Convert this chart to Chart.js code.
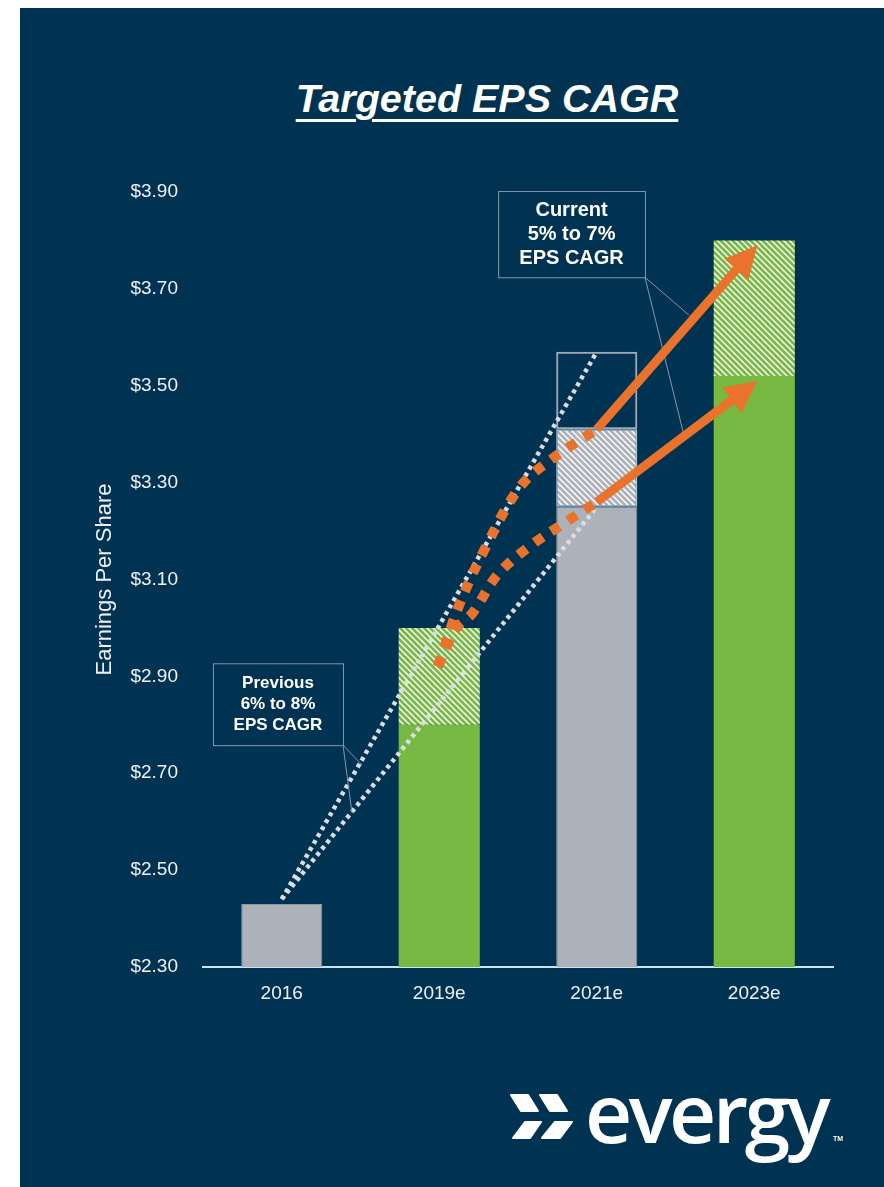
<!DOCTYPE html>
<html>
<head>
<meta charset="utf-8">
<title>Targeted EPS CAGR</title>
<script src="https://cdn.jsdelivr.net/npm/chart.js@4.4.1/dist/chart.umd.min.js"></script>
<style>
  html, body { margin: 0; padding: 0; background: #fff; }
  body { width: 884px; height: 1187px; position: relative; overflow: hidden;
         font-family: "Liberation Sans", Arial, sans-serif; }
  #panel { position: absolute; left: 20px; top: 8px; right: 0; bottom: 0; background: #003252; }
  #chart { position: absolute; left: 0; top: 0; }
  #title { position: absolute; left: 187px; top: 78px; width: 600px; text-align: center;
           color: #fff; font-size: 39.5px; line-height: 40px; font-weight: bold; font-style: italic;
           text-decoration: underline; text-decoration-thickness: 3px; text-underline-offset: 7px; }
  #logo-mark { position: absolute; left: 0; top: 0; }
  #logo-word { position: absolute; left: 585px; top: 1070px; color: #fff;
               font-family: "Open Sans", sans-serif; font-weight: 600; font-size: 82px;
               line-height: 82px; letter-spacing: -3.5px; }
  #logo-tm { position: absolute; left: 833px; top: 1135px; color: #fff; font-size: 7px; font-weight: bold; }
</style>
</head>
<body>
<div id="panel"></div>
<div id="title">Targeted EPS CAGR</div>
<canvas id="chart" width="884" height="1187"></canvas>
<svg id="logo-mark" width="884" height="1187">
  <g fill="#fff" stroke="#fff" stroke-width="2" stroke-linejoin="round">
    <polygon points="511,1095 528,1095 538,1111 521,1111"/>
    <polygon points="540,1095 557,1095 567,1111 550,1111"/>
    <polygon points="525,1122 541,1122 530,1138 513,1138"/>
    <polygon points="555,1122 572,1122 560,1138 542,1138"/>
  </g>
</svg>
<div id="logo-word">evergy</div>
<div id="logo-tm">TM</div>

<script>
/* EPS CAGR chart — bars, guide lines and arrows */

// ── DATA ──────────────────────────────────────────────────────────────────────
const CATEGORIES = ['2016', '2019e', '2021e', '2023e'];
const EPS_BASE   = [2.43, 2.80, 3.25, 3.52];   // solid bar top
const EPS_HIGH   = [null, 3.00, 3.41, 3.80];   // top of hatched range
const PREV_HIGH  = [null, null, 3.57, null];   // previous 2021 target (outline box)
const Y_TICKS    = [2.30, 2.50, 2.70, 2.90, 3.10, 3.30, 3.50, 3.70, 3.90];
const Y_MIN = 2.30;
const Y_MAX = 3.90;

// previous 6%-8% guide lines (x = category index)
const PREV_LOW_LINE  = [{ x: 0, y: 2.44 }, { x: 2, y: 3.25 }];
const PREV_HIGH_LINE = [{ x: 0, y: 2.44 }, { x: 2, y: 3.57 }];

// current 5%-7% dotted paths, 2019e -> 2021e
const CUR_HIGH_PATH = [
  { x: 0.99, y: 2.92 }, { x: 1.13, y: 3.05 }, { x: 1.30, y: 3.17 },
  { x: 1.51, y: 3.29 }, { x: 1.72, y: 3.35 }, { x: 2.00, y: 3.41 }
];
const CUR_LOW_PATH = [
  { x: 0.99, y: 2.92 }, { x: 1.11, y: 3.00 }, { x: 1.21, y: 3.03 },
  { x: 1.37, y: 3.11 }, { x: 1.58, y: 3.17 }, { x: 1.81, y: 3.22 }, { x: 2.00, y: 3.26 }
];

// solid arrows 2021e -> 2023e
const CUR_HIGH_ARROW = [{ x: 2.00, y: 3.41 }, { x: 3.02, y: 3.79 }];
const CUR_LOW_ARROW  = [{ x: 2.00, y: 3.26 }, { x: 3.02, y: 3.51 }];

// callouts: box corners in data coords, leader end points, text lines
const PREV_LINES = ['Previous', '6% to 8%', 'EPS CAGR'];
const PREV_BOX   = { x0: -0.437, x1: 0.389, y0: 2.927, y1: 2.758 };
const PREV_LEADS = [{ x: 0.51, y: 2.717 }, { x: 0.446, y: 2.618 }];
const CUR_LINES  = ['Current', '5% to 7%', 'EPS CAGR'];
const CUR_BOX    = { x0: 1.374, x1: 2.306, y0: 3.902, y1: 3.724 };
const CUR_LEADS  = [{ x: 2.585, y: 3.646 }, { x: 2.555, y: 3.396 }];

// ── STYLE ─────────────────────────────────────────────────────────────────────
const GRAY   = '#adb1b9';
const GREEN  = '#78b943';
const ORANGE = '#e9732c';
const DOTS   = '#dadde1';
const FONT   = "'Liberation Sans', Arial, sans-serif";

function hatch(color) {
  const s = 6;
  const c = document.createElement('canvas');
  c.width = s; c.height = s;
  const g = c.getContext('2d');
  g.fillStyle = '#ffffff';
  g.fillRect(0, 0, s, s);
  g.strokeStyle = color;
  g.lineWidth = 2.7;
  for (let k = -s; k <= s; k += s) {
    g.beginPath();
    g.moveTo(k - 1, -1);
    g.lineTo(k + s + 1, s + 1);
    g.stroke();
  }
  return g.createPattern(c, 'repeat');
}

const GREEN_HATCH = hatch(GREEN);
const GRAY_HATCH  = hatch(GRAY);

// ── ANNOTATION PLUGIN ─────────────────────────────────────────────────────────
function px(chart, p) {
  return {
    x: chart.scales.xl.getPixelForValue(p.x),
    y: chart.scales.y.getPixelForValue(p.y)
  };
}

function drawArrow(chart, pts) {
  const ctx = chart.ctx;
  const a = px(chart, pts[0]);
  const b = px(chart, pts[1]);
  const len = Math.hypot(b.x - a.x, b.y - a.y);
  const ux = (b.x - a.x) / len, uy = (b.y - a.y) / len;
  const headLen = 32, headW = 16;
  const bx = b.x - ux * headLen, by = b.y - uy * headLen;
  ctx.save();
  ctx.strokeStyle = ORANGE;
  ctx.fillStyle   = ORANGE;
  ctx.lineWidth   = 9;
  ctx.lineCap     = 'butt';
  ctx.beginPath();
  ctx.moveTo(a.x, a.y);
  ctx.lineTo(bx + ux * 2, by + uy * 2);
  ctx.stroke();
  ctx.beginPath();
  ctx.moveTo(b.x, b.y);
  ctx.lineTo(bx - uy * headW, by + ux * headW);
  ctx.lineTo(bx + uy * headW, by - ux * headW);
  ctx.closePath();
  ctx.fill();
  ctx.restore();
}

function drawCallout(chart, box, leads, lines, size, gap) {
  const ctx = chart.ctx;
  const tl = px(chart, { x: box.x0, y: box.y0 });
  const br = px(chart, { x: box.x1, y: box.y1 });
  ctx.save();
  ctx.strokeStyle = '#8597ab';
  ctx.lineWidth   = 1;
  ctx.strokeRect(tl.x + 0.5, tl.y + 0.5, br.x - tl.x, br.y - tl.y);
  leads.forEach(p => {
    const e = px(chart, p);
    ctx.beginPath();
    ctx.moveTo(br.x, br.y);
    ctx.lineTo(e.x, e.y);
    ctx.stroke();
  });
  ctx.fillStyle    = '#ffffff';
  ctx.font         = `bold ${size}px ${FONT}`;
  ctx.textAlign    = 'center';
  ctx.textBaseline = 'middle';
  const cx = (tl.x + br.x) / 2;
  const cy = (tl.y + br.y) / 2;
  lines.forEach((t, i) => ctx.fillText(t, cx, cy + (i - 1) * gap));
  ctx.restore();
}

const annotations = {
  id: 'annotations',
  afterDatasetsDraw(chart) {
    drawCallout(chart, PREV_BOX, PREV_LEADS, PREV_LINES, 17, 21);
    drawCallout(chart, CUR_BOX, CUR_LEADS, CUR_LINES, 20, 24);
    drawArrow(chart, CUR_HIGH_ARROW);
    drawArrow(chart, CUR_LOW_ARROW);
  }
};

// ── CHART ─────────────────────────────────────────────────────────────────────
function dottedLine(data, color, width, dash, order, tension) {
  return {
    type: 'line',
    xAxisID: 'xl',
    data,
    borderColor: color,
    borderWidth: width,
    borderDash: dash,
    borderCapStyle: 'butt',
    pointRadius: 0,
    tension: tension,
    fill: false,
    order
  };
}

new Chart(document.getElementById('chart'), {
  type: 'bar',
  data: {
    labels: CATEGORIES,
    datasets: [
      {
        data: EPS_BASE.map(v => [Y_MIN, v]),
        backgroundColor: [GRAY, GREEN, GRAY, GREEN],
        borderColor: ['#8d97a2', GREEN, '#8d97a2', GREEN],
        borderWidth: [1, 0, 1, 0],
        order: 9
      },
      {
        data: EPS_HIGH.map((v, i) => v == null ? null : [EPS_BASE[i], v]),
        backgroundColor: [null, GREEN_HATCH, GRAY_HATCH, GREEN_HATCH],
        borderColor: ['transparent', 'transparent', '#a8c8e0', 'transparent'],
        borderWidth: [0, 0, 1.5, 0],
        borderSkipped: false,
        order: 8
      },
      {
        data: PREV_HIGH.map((v, i) => v == null ? null : [EPS_HIGH[i], v]),
        backgroundColor: 'transparent',
        borderColor: '#a3a9b1',
        borderWidth: 2,
        borderSkipped: false,
        order: 7
      },
      dottedLine(PREV_HIGH_LINE, DOTS, 4.5, [4, 4], 5, 0),
      dottedLine(PREV_LOW_LINE,  DOTS, 4.5, [4, 4], 5, 0),
      dottedLine(CUR_HIGH_PATH, ORANGE, 10, [10, 10], 2, 0.35),
      dottedLine(CUR_LOW_PATH,  ORANGE, 10, [10, 10], 2, 0.35)
    ]
  },
  options: {
    responsive: false,
    animation: false,
    layout: { padding: { left: 0, top: 192, right: 51, bottom: 160 } },
    datasets: {
      bar: { grouped: false, barPercentage: 0.515, categoryPercentage: 1 }
    },
    plugins: {
      legend: { display: false },
      tooltip: { enabled: false }
    },
    scales: {
      x: {
        type: 'category',
        offset: true,
        grid: { display: false, drawTicks: false },
        border: { display: true, color: '#c8e5f7', width: 2 },
        ticks: { color: '#eef1f4', padding: 15, font: { family: FONT, size: 19 } },
        afterFit: s => { s.height = 60; }
      },
      xl: {
        type: 'linear',
        min: -0.5,
        max: 3.5,
        offset: false,
        grid: { offset: false },
        display: false
      },
      y: {
        min: Y_MIN,
        max: Y_MAX,
        grid: { display: false, drawTicks: false },
        border: { display: false },
        afterBuildTicks: s => { s.ticks = Y_TICKS.map(v => ({ value: v })); },
        afterFit: s => { s.width = 203; },
        ticks: {
          color: '#eef1f4',
          padding: 25,
          font: { family: FONT, size: 19 },
          callback: v => '$' + Number(v).toFixed(2)
        },
        title: {
          display: true,
          text: 'Earnings Per Share',
          color: '#eef1f4',
          font: { family: FONT, size: 22 },
          padding: { top: 92, bottom: 0 }
        }
      }
    }
  },
  plugins: [annotations]
});
</script>
</body>
</html>
